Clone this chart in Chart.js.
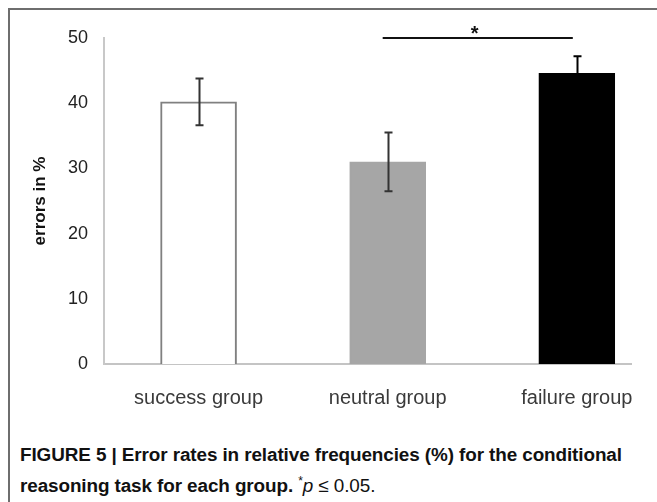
<!DOCTYPE html>
<html>
<head>
<meta charset="utf-8">
<script src="https://cdn.jsdelivr.net/npm/chart.js@4.4.1/dist/chart.umd.min.js"></script>
<style>
  html, body { margin: 0; padding: 0; background: #fff; }
  body { width: 657px; height: 502px; position: relative; overflow: hidden; }
  .frame {
    position: absolute; left: 8px; top: 8px; width: 660px; height: 500px;
    border-left: 2px solid #6e6e6e; border-top: 2px solid #6e6e6e;
  }
  #chartBox { position: absolute; left: 0; top: 0; width: 657px; height: 420px; }
  .caption {
    position: absolute; left: 20px; top: 442px; width: 640px;
    font-family: "Liberation Sans", Arial, sans-serif;
    font-size: 18.9px; line-height: 26px; color: #111; letter-spacing: -0.1px;
  }
  .caption b { font-weight: bold; }
</style>
</head>
<body>
<div class="frame"></div>
<div id="chartBox"><canvas id="errChart" width="657" height="420"></canvas></div>
<div class="caption">
  <b>FIGURE 5 | Error rates in relative frequencies (%) for the conditional<br>reasoning task for each group.</b> <sup style="font-size:12px">*</sup><i>p</i> &le; 0.05.
</div>
<script>
// values
const categories = ['success group', 'neutral group', 'failure group'];
const positions = [1, 2, 3];
const errorRates = [40.2, 31.0, 44.6];
const errorSizes = [3.6, 4.5, 2.6];
const barColors = ['#ffffff', '#a6a6a6', '#000000'];
const barBorders = ['#808080', '#a6a6a6', '#000000'];
const errorColors = ['#333333', '#333333', '#000000'];
const yTicks = [0, 10, 20, 30, 40, 50];
// significance bracket: between group 2 and group 3, drawn at 50 %
const sigFrom = 2, sigTo = 3, sigLevel = 50;

// Draw the error bars and significance marker on top of the bars
const errorBars = {
    id: 'errorBars',
    afterDatasetsDraw(chart) {
        const { ctx, scales: { x, y } } = chart;
        ctx.save();
        ctx.lineWidth = 2;
        positions.forEach((p, i) => {
            const px = Math.round(x.getPixelForValue(p)) + 0.5;
            const top = y.getPixelForValue(errorRates[i] + errorSizes[i]);
            const bot = y.getPixelForValue(errorRates[i] - errorSizes[i]);
            ctx.strokeStyle = errorColors[i];
            ctx.beginPath();
            ctx.moveTo(px, top); ctx.lineTo(px, bot);
            ctx.moveTo(px - 4, top); ctx.lineTo(px + 4, top);
            ctx.moveTo(px - 4, bot); ctx.lineTo(px + 4, bot);
            ctx.stroke();
        });

        const x1 = x.getPixelForValue(sigFrom) - 5;
        const x2 = x.getPixelForValue(sigTo) - 4;
        const ly = y.getPixelForValue(sigLevel);
        ctx.strokeStyle = '#111';
        ctx.beginPath();
        ctx.moveTo(x1, ly); ctx.lineTo(x2, ly);
        ctx.stroke();
        ctx.fillStyle = '#111';
        ctx.font = "bold 20px 'Liberation Sans', Arial, sans-serif";
        ctx.textAlign = 'center';
        ctx.textBaseline = 'middle';
        ctx.fillText('*', (x1 + x2) / 2 - 3, ly - 4);
        ctx.restore();
    }
};

const ctx = document.getElementById('errChart').getContext('2d');
Chart.defaults.font.family = "'Liberation Sans', Arial, sans-serif";

new Chart(ctx, {
    type: 'bar',
    data: {
        datasets: [{
            data: positions.map((p, i) => ({ x: p, y: errorRates[i] })),
            backgroundColor: barColors,
            borderColor: barBorders,
            borderWidth: 2,
            barThickness: 76
        }]
    },
    options: {
        responsive: false,
        animation: false,
        layout: { padding: { top: 38, right: 25, left: 0, bottom: 0 } },
        plugins: {
            legend: { display: false },
            tooltip: { enabled: false }
        },
        scales: {
            x: {
                type: 'linear',
                offset: false,
                min: 0.5,
                max: 3.29,
                grid: { display: false, drawTicks: false },
                border: { color: '#c4c4c4', width: 2 },
                afterBuildTicks(scale) {
                    scale.ticks = positions.map(v => ({ value: v }));
                },
                afterFit(scale) { scale.height = 56; },
                ticks: {
                    padding: 22,
                    color: '#3a3a3a',
                    font: { size: 20 },
                    callback: v => categories[positions.indexOf(v)] || ''
                }
            },
            y: {
                min: 0,
                max: 50,
                grid: { display: false, drawTicks: false },
                border: { color: '#c8c8c8', width: 2 },
                afterBuildTicks(scale) {
                    scale.ticks = yTicks.map(v => ({ value: v }));
                },
                afterFit(scale) { scale.width = 104; },
                ticks: {
                    padding: 16,
                    color: '#222',
                    font: { size: 18 }
                },
                title: {
                    display: true,
                    text: 'errors in %',
                    color: '#111',
                    font: { size: 17, weight: 'bold' },
                    padding: { top: 30 }
                }
            }
        }
    },
    plugins: [errorBars]
});
</script>
</body>
</html>
